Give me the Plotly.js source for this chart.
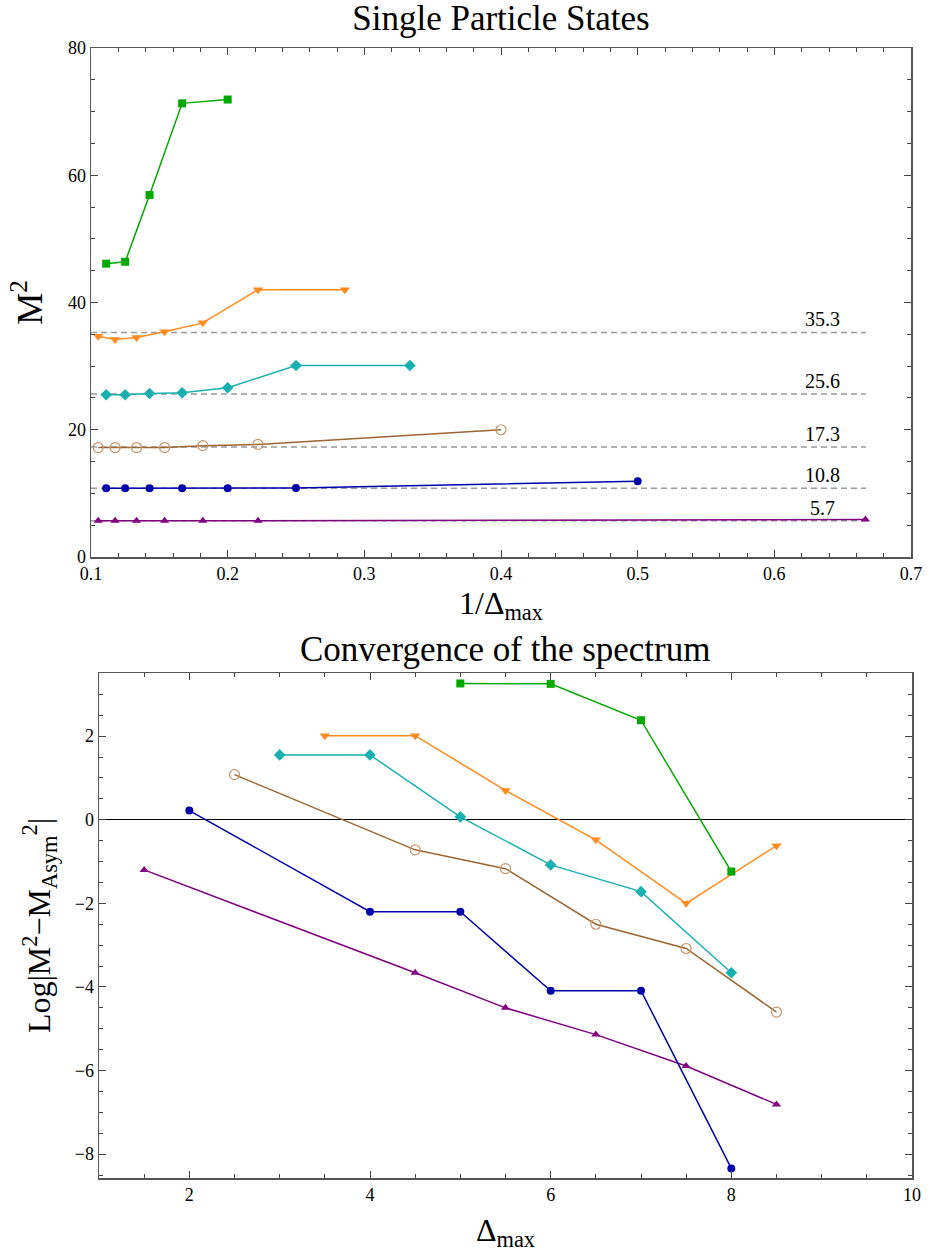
<!DOCTYPE html>
<html>
<head>
<meta charset="utf-8">
<script src="https://cdn.plot.ly/plotly-3.0.1.min.js"></script>
<style>html,body{margin:0;padding:0;background:#fff;}#chart{width:928px;height:1253px;}</style>
</head>
<body>
<div id="chart"></div>
<script>
// ---------- Top panel: M^2 vs 1/Delta_max ----------
const topGreenD = [9, 8, 7, 6, 5];
const topGreenM2 = [46.1, 46.4, 56.9, 71.3, 71.9];
const topOrangeD = [9.5, 8.5, 7.5, 6.5, 5.5, 4.5, 3.5];
const topOrangeM2 = [34.7, 34.2, 34.5, 35.4, 36.8, 42.0, 42.0];
const topCyanD = [9, 8, 7, 6, 5, 4, 3];
const topCyanM2 = [25.5, 25.5, 25.7, 25.8, 26.6, 30.1, 30.1];
const topBrownD = [9.5, 8.5, 7.5, 6.5, 5.5, 4.5, 2.5];
const topBrownM2 = [17.2, 17.2, 17.2, 17.2, 17.5, 17.7, 20.0];
const topBlueD = [9, 8, 7, 6, 5, 4, 2];
const topBlueM2 = [10.8, 10.8, 10.8, 10.8, 10.8, 10.85, 11.9];
const topPurpleD = [9.5, 8.5, 7.5, 6.5, 5.5, 4.5, 1.5];
const topPurpleM2 = [5.7, 5.7, 5.7, 5.7, 5.7, 5.7, 5.9];

// asymptotic values (dashed lines) and their extent in 1/Delta_max
const asymValues = [35.3, 25.6, 17.3, 10.8, 5.7];
const asymLabels = ["35.3", "25.6", "17.3", "10.8", "5.7"];
const asymXRange = [0.1, 0.667];

// ---------- Bottom panel: Log|M^2 - M_asym^2| vs Delta_max ----------
const botGreenD = [5, 6, 7, 8];
const botGreenL = [3.26, 3.25, 2.38, -1.24];
const botOrangeD = [3.5, 4.5, 5.5, 6.5, 7.5, 8.5];
const botOrangeL = [2.01, 2.01, 0.70, -0.48, -2.00, -0.62];
const botCyanD = [3, 4, 5, 6, 7, 8];
const botCyanL = [1.55, 1.55, 0.07, -1.08, -1.72, -3.66];
const botBrownD = [2.5, 4.5, 5.5, 6.5, 7.5, 8.5];
const botBrownL = [1.08, -0.72, -1.17, -2.50, -3.08, -4.60];
const botBlueD = [2, 4, 5, 6, 7, 8];
const botBlueL = [0.22, -2.20, -2.20, -4.09, -4.09, -8.34];
const botPurpleD = [1.5, 4.5, 5.5, 6.5, 7.5, 8.5];
const botPurpleL = [-1.20, -3.66, -4.50, -5.14, -5.89, -6.81];

const C = {
  green: '#00A800', orange: '#FF8A1E', cyan: '#1BB0B0',
  brown: '#9C6633', brownMk: '#C8946A', blue: '#0000AA', purple: '#800080'
};
const FONT = 'Liberation Serif, Times New Roman, serif';
const inv = a => a.map(d => 1 / d);

function series(x, y, color, symbol, size, xa, ya, mkColor, open) {
  return {
    x: x, y: y, xaxis: xa, yaxis: ya, type: 'scatter', mode: 'lines+markers',
    line: {color: color, width: 1.5},
    marker: open ? {symbol: symbol, size: size, color: mkColor || color, line: {color: mkColor || color, width: 1.2}}
                 : {symbol: symbol, size: size, color: mkColor || color, line: {width: 0}},
    showlegend: false, hoverinfo: 'skip'
  };
}

const traces = [];
// dashed asymptote lines
asymValues.forEach(v => {
  traces.push({x: asymXRange, y: [v, v], xaxis: 'x', yaxis: 'y', type: 'scatter', mode: 'lines',
    line: {color: '#999999', width: 1.5, dash: '6px,4px'}, showlegend: false, hoverinfo: 'skip'});
});
traces.push(series(inv(topPurpleD), topPurpleM2, C.purple, 'triangle-up', 8, 'x', 'y'));
traces.push(series(inv(topBlueD), topBlueM2, C.blue, 'circle', 8, 'x', 'y'));
traces.push(series(inv(topBrownD), topBrownM2, C.brown, 'circle-open', 10, 'x', 'y', C.brownMk, true));
traces.push(series(inv(topCyanD), topCyanM2, C.cyan, 'diamond', 9, 'x', 'y'));
traces.push(series(inv(topOrangeD), topOrangeM2, C.orange, 'triangle-down', 9, 'x', 'y'));
traces.push(series(inv(topGreenD), topGreenM2, C.green, 'square', 8, 'x', 'y'));

traces.push(series(botPurpleD, botPurpleL, C.purple, 'triangle-up', 8, 'x2', 'y2'));
traces.push(series(botBlueD, botBlueL, C.blue, 'circle', 8, 'x2', 'y2'));
traces.push(series(botBrownD, botBrownL, C.brown, 'circle-open', 10, 'x2', 'y2', C.brownMk, true));
traces.push(series(botCyanD, botCyanL, C.cyan, 'diamond', 9, 'x2', 'y2'));
traces.push(series(botOrangeD, botOrangeL, C.orange, 'triangle-down', 9, 'x2', 'y2'));
traces.push(series(botGreenD, botGreenL, C.green, 'square', 8, 'x2', 'y2'));

const W = 928, H = 1253;
const axBase = {
  showgrid: false, zeroline: false, showline: true, linecolor: '#555', linewidth: 1.5,
  mirror: 'allticks', ticks: 'inside', ticklen: 7, tickwidth: 1, tickcolor: '#444',
  tickfont: {family: FONT, size: 18, color: '#000'}
};

const annotations = asymValues.map((v, i) => ({
  x: 0.635, y: v, xref: 'x', yref: 'y', text: asymLabels[i], showarrow: false,
  xanchor: 'center', yanchor: 'bottom', yshift: 0,
  font: {family: FONT, size: 20, color: '#000'}
}));
annotations.push({
  x: 505 / W, y: 1 - 650 / H, xref: 'paper', yref: 'paper', text: 'Convergence of the spectrum',
  showarrow: false, xanchor: 'center', yanchor: 'middle', font: {family: FONT, size: 35, color: '#000'}
});

const layout = {
  width: W, height: H, margin: {l: 0, r: 0, t: 0, b: 0},
  paper_bgcolor: '#fff', plot_bgcolor: '#fff',
  title: {text: 'Single Particle States', x: 501 / W, xanchor: 'center', xref: 'paper',
          y: 1 - 18 / H, yanchor: 'middle', yref: 'paper', font: {family: FONT, size: 35, color: '#000'}},
  xaxis: Object.assign({}, axBase, {
    domain: [91 / W, 911 / W], anchor: 'y', range: [0.1, 0.7], dtick: 0.1, tick0: 0.1, tickformat: '.1f',
    minor: {dtick: 0.02, ticklen: 4, ticks: 'inside', tickcolor: '#444'},
    title: {text: '1/Δ<sub>max</sub>', font: {family: FONT, size: 32, color: '#000'}, standoff: 8}
  }),
  yaxis: Object.assign({}, axBase, {
    domain: [1 - 557 / H, 1 - 48 / H], anchor: 'x', range: [0, 80], dtick: 20,
    minor: {dtick: 5, ticklen: 4, ticks: 'inside', tickcolor: '#444'},
    title: {text: 'M<sup>2</sup>', font: {family: FONT, size: 36, color: '#000'}, standoff: 14}
  }),
  xaxis2: Object.assign({}, axBase, {
    domain: [99 / W, 912 / W], anchor: 'y2', range: [1, 10], dtick: 2,
    minor: {dtick: 0.5, ticklen: 4, ticks: 'inside', tickcolor: '#444'},
    title: {text: 'Δ<sub>max</sub>', font: {family: FONT, size: 32, color: '#000'}, standoff: 14}
  }),
  yaxis2: Object.assign({}, axBase, {
    domain: [1 - 1178 / H, 1 - 673 / H], anchor: 'x2', range: [-8.57, 3.51], dtick: 2,
    zeroline: true, zerolinecolor: '#000', zerolinewidth: 1.2,
    minor: {dtick: 0.5, ticklen: 4, ticks: 'inside', tickcolor: '#444'},
    title: {text: 'Log|M<sup>2</sup>−M<sub>Asym</sub><sup>2</sup>|', font: {family: FONT, size: 32, color: '#000'}, standoff: 14}
  }),
  annotations: annotations
};

Plotly.newPlot('chart', traces, layout, {staticPlot: true, displayModeBar: false});
</script>
</body>
</html>
